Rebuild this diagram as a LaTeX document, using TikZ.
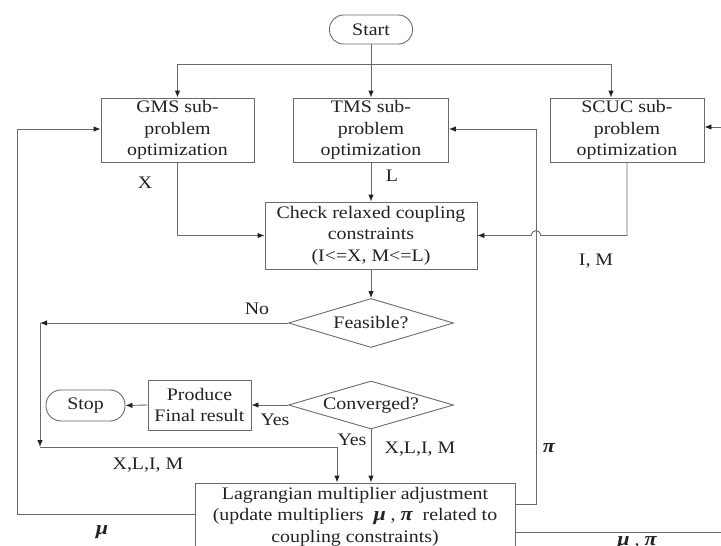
\documentclass[tikz,border=0pt]{standalone}
\usepackage{fontspec}
\setmainfont{Liberation Serif}[FakeStretch=1.13]
\usetikzlibrary{arrows.meta,shapes.geometric}
\definecolor{linec}{HTML}{6A6A6A}
\definecolor{txtc}{HTML}{222222}
\newcommand\dgfont{\fontsize{17.6}{21.5}\selectfont}
\newcommand\bmu{{\fontsize{19.5}{21.5}\selectfont\bfseries\itshape μ}}
\newcommand\bpi{{\fontsize{19.5}{21.5}\selectfont\bfseries\itshape π}}
\begin{document}
\begin{tikzpicture}[x=1pt,y=-1pt,
  line/.style={draw=linec, line width=0.9pt},
  arr/.style={line, -{Latex[length=7pt,width=5.5pt,color=txtc]}},
  box/.style={draw=linec, line width=0.9pt, align=center, inner sep=0pt, font=\dgfont, text=txtc},
  term/.style={box, rounded corners=14pt},
  dia/.style={box, diamond, aspect=3.4},
  lbl/.style={font=\dgfont, text=txtc, inner sep=0pt}]
\clip (0,0) rectangle (721,546);
\fill[white] (0,0) rectangle (721,546);
% nodes
\node[term, minimum width=83pt, minimum height=29pt] (start) at (371,29.5) {Start};
\node[box, minimum width=153pt, minimum height=64pt] (gms) at (177.5,130) {GMS sub-\\problem\\optimization};
\node[box, minimum width=155pt, minimum height=64pt] (tms) at (371,130) {TMS sub-\\problem\\optimization};
\node[box, minimum width=154pt, minimum height=64pt] (scuc) at (627,130) {SCUC sub-\\problem\\optimization};
\node[box, minimum width=212pt, minimum height=67pt] (check) at (371,235.5) {Check relaxed coupling\\constraints\\(I<=X, M<=L)};
\node[dia, minimum width=165pt, minimum height=49pt] (feas) at (371,323) {Feasible?};
\node[dia, minimum width=165pt, minimum height=48pt] (conv) at (371,405) {Converged?};
\node[box, minimum width=103pt, minimum height=50pt] (prod) at (199.5,405) {Produce\\Final result};
\node[term, minimum width=79pt, minimum height=31pt, rounded corners=15pt] (stop) at (85.5,405.5) {Stop};
\node[box, minimum width=320pt, minimum height=67pt] (lag) at (355,516.5) {Lagrangian multiplier adjustment\\(update multipliers \ \bmu\ , \bpi\ \ related to\\coupling constraints)};
% coordinates
\coordinate (split) at (371,64);
\coordinate (hopR) at (540.5,235.5);
\coordinate (hopL) at (531.5,235.5);
\coordinate (nL) at (40,323);
\coordinate (nB) at (40,447);
\coordinate (mu1) at (17,514);
\coordinate (mu2) at (17,129);
\coordinate (pi1) at (536,504);
\coordinate (pi2) at (536,129);
\coordinate (mp) at (722,532);
\coordinate (sr) at (722,127);
% connectors
\draw[arr] (start.south) -- (tms.north);
\draw[arr] (split) -| (gms.north);
\draw[arr] (split) -| ([xshift=-16pt]scuc.north);
\draw[arr] (gms.south) |- (check.west);
\draw[arr] (tms.south) -- (check.north);
\draw[arr] (scuc.south) |- (hopR) .. controls (540.5,229) and (531.5,229) .. (hopL) -- (check.east);
\draw[arr] (check.south) -- (feas.north);
\draw[arr] (feas.west) -- (nL);
\draw[arr] (nL) -- (nB);
\draw[arr] (nB) -| ([xshift=-18pt]lag.north);
\draw[arr] (conv.west) -- (prod.east);
\draw[arr] (prod.west) -- (stop.east);
\draw[arr] (conv.south) -- (conv.south |- lag.north);
\draw[arr] (lag.west |- mu1) -- (mu1) -- (mu2) -- (gms.west |- mu2);
\draw[arr] (lag.east |- pi1) -- (pi1) -- (pi2) -- (tms.east |- pi2);
\draw[line] (lag.east |- mp) -- (mp);
\draw[arr] (sr) -- (scuc.east |- sr);
% labels
\node[lbl] (lx) at (145,183) {X};
\node[lbl] (ll) at (392,176) {L};
\node[lbl] (lim) at (596,261) {I, M};
\node[lbl] (lno) at (257,309) {No};
\node[lbl] (lyes1) at (275,420) {Yes};
\node[lbl] (lyes2) at (352,440) {Yes};
\node[lbl] (lxl1) at (148,465) {X,L,I, M};
\node[lbl] (lxl2) at (420,449) {X,L,I, M};
\node[lbl] (lpi) at (549,448) {\bpi};
\node[lbl] (lmu) at (102,532) {\bmu};
\node[lbl] (lmp) at (637,543) {\bmu\ , \bpi};
\end{tikzpicture}
\end{document}
